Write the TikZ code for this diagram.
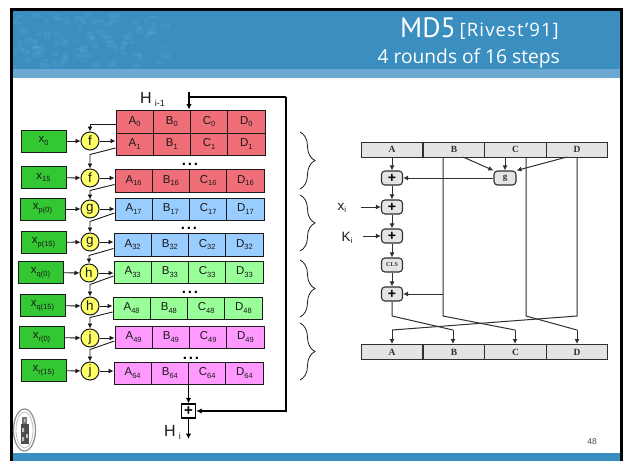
\documentclass[tikz,border=0pt]{standalone}
\usepackage{fontspec}
\setmainfont{Liberation Sans}
\newfontfamily\titlefont{PT Sans}
\newfontfamily\subtitlefont{Open Sans}
\newfontfamily\serifb{Liberation Serif}[BoldFont={Liberation Serif Bold}]
\usetikzlibrary{arrows.meta,decorations.pathreplacing,calc}
\definecolor{hdr}{HTML}{3A8FC0}
\definecolor{hdrlight}{HTML}{6BA9D3}
\definecolor{regred}{HTML}{F06E78}
\definecolor{regblue}{HTML}{99CCFF}
\definecolor{reggreen}{HTML}{99FF99}
\definecolor{regpink}{HTML}{FF99FF}
\definecolor{wordgreen}{HTML}{33C733}
\definecolor{fnyellow}{HTML}{FFFF66}
\definecolor{barfill}{HTML}{E4E4E4}
\definecolor{inkdark}{HTML}{1A1A1A}
\definecolor{inkright}{HTML}{303030}
\newcommand{\lowsub}[1]{\raisebox{-2.6pt}{\fontsize{7.5}{8}\selectfont #1}}
\newcommand{\regrow}[6]{%
  \foreach \L [count=\i from 0] in {A,B,C,D}{%
    \pgfmathsetmacro{\cx}{#2+37.25*(\i+0.5)}%
    \pgfmathsetmacro{\cy}{(#3+#4)/2}%
    \pgfmathsetmacro{\ch}{#4-#3}%
    \node[cell,fill=#5,minimum height=\ch pt] (#1\L) at (\cx,\cy) {\L\lowsub{#6}};
  }}
\newcommand{\feed}[3]{% from register #1 to function #2, bend drop #3
  \draw[arr] ($(#1A.west)+(0,4)$) -- ($(#2.north)+(0,-#3)$) -- (#2.north);}
\tikzset{
  cell/.style={draw=inkdark,line width=1pt,inner sep=0pt,minimum width=37.25pt,font=\fontsize{11.5}{12}\selectfont,text=inkdark},
  wordbox/.style={draw=inkdark,line width=1pt,fill=wordgreen,inner sep=0pt,minimum width=45pt,minimum height=22pt,font=\fontsize{11.5}{12}\selectfont,text=inkdark},
  fnnode/.style={circle,draw=inkdark,line width=1pt,fill=fnyellow,inner sep=0pt,minimum size=18pt,font=\fontsize{13.5}{13}\selectfont,text=inkdark},
  conn/.style={draw=inkdark,line width=.9pt},
  arr/.style={conn,-{Latex[length=5pt,width=5pt]}},
  thick conn/.style={draw=black,line width=1.4pt},
  thick arr/.style={thick conn,-{Latex[length=5.5pt,width=5.5pt]}},
  bracket/.style={draw=inkdark,line width=.8pt,decorate,decoration={brace,amplitude=15pt,aspect=.5}},
  barcell/.style={draw=inkright,line width=1pt,fill=barfill,inner sep=0pt,minimum height=15pt,font=\serifb\bfseries\fontsize{9.5}{10}\selectfont,text=inkright},
  opbox/.style={draw=inkright,line width=1.1pt,fill=barfill,rounded corners=3.5pt,inner sep=0pt,minimum width=21pt,minimum height=14pt,font=\bfseries\fontsize{14}{14}\selectfont,text=black},
  rarr/.style={draw=inkright,line width=1pt,-{Latex[length=5pt,width=5pt]}},
  rline/.style={draw=inkright,line width=1pt},
  label/.style={inner sep=0pt,text=inkdark},
  dotsnode/.style={anchor=base,inner sep=0pt,font=\bfseries\fontsize{15}{15}\selectfont\addfontfeature{LetterSpace=12},text=black}
}
\begin{document}
\begin{tikzpicture}[x=1pt,y=-1pt]
\useasboundingbox (0,0) rectangle (623,461);
% slide frame
\fill[white] (0,0) rectangle (623,461);
\fill[black] (10,8) rectangle (623,461);
\fill[white] (12.5,11) rectangle (619.5,461);
\fill[hdr] (12.5,11) rectangle (619.5,69);
\fill[hdrlight] (12.5,69) rectangle (619.5,78);
\fill[hdr] (12.5,453) rectangle (619.5,461);
% header texture
\pgfmathsetseed{7}
\foreach \k in {1,...,90}{
  \pgfmathsetmacro{\tx}{13+rnd*150}
  \pgfmathsetmacro{\ty}{12+rnd*52}
  \fill[white,opacity=.05] (\tx,\ty) rectangle ++(3+rnd*7,2+rnd*5);
}
% title
\node[anchor=base west,inner sep=0pt,text=white,font=\titlefont\fontsize{28}{28}\selectfont] (title1) at (400,37) {MD5};
\node[anchor=base east,inner sep=0pt,text=white,font=\subtitlefont\fontsize{18.5}{19}\selectfont\addfontfeature{LetterSpace=6}] (title1b) at (559,36) {[Rivest’91]};
\node[anchor=base east,inner sep=0pt,text=white,font=\subtitlefont\fontsize{19.2}{20}\selectfont] (title2) at (560,63) {4 rounds of 16 steps};
% registers
\regrow{ra}{116}{110}{133}{regred}{0}
\regrow{rb}{116}{133}{155}{regred}{1}
\regrow{rc}{115}{169}{192}{regred}{16}
\regrow{rd}{115}{198}{220}{regblue}{17}
\regrow{re}{114}{233}{256}{regblue}{32}
\regrow{rf}{114}{261}{283}{reggreen}{33}
\regrow{rg}{113}{297}{319}{reggreen}{48}
\regrow{rh}{115}{326}{348}{regpink}{49}
\regrow{ri}{114}{362}{384}{regpink}{64}
% message words
\node[wordbox] (w1) at (43.5,141) {x\lowsub{0}};
\node[wordbox] (w2) at (43.5,177.5) {x\lowsub{15}};
\node[wordbox] (w3) at (42.5,209) {x\lowsub{p(0)}};
\node[wordbox] (w4) at (43.5,242.5) {x\lowsub{p(15)}};
\node[wordbox] (w5) at (40.5,272.5) {x\lowsub{q(0)}};
\node[wordbox] (w6) at (42.5,305.5) {x\lowsub{q(15)}};
\node[wordbox] (w7) at (41.5,337.5) {x\lowsub{r(0)}};
\node[wordbox] (w8) at (43.5,370.5) {x\lowsub{r(15)}};
% functions
\node[fnnode] (f1) at (90,141) {f};
\node[fnnode] (f2) at (90,178) {f};
\node[fnnode] (f3) at (90,209) {g};
\node[fnnode] (f4) at (90,242) {g};
\node[fnnode] (f5) at (89,273) {h};
\node[fnnode] (f6) at (90,306) {h};
\node[fnnode] (f7) at (90,338) {j};
\node[fnnode] (f8) at (90,371) {j};
% word -> function -> register
\foreach \n/\r in {1/rb,2/rc,3/rd,4/re,5/rf,6/rg,7/rh,8/ri}{
  \draw[arr] (w\n) -- (f\n);
  \draw[arr] (f\n) -- (f\n -| \r A.west);
}
% chaining
\draw[arr] ($(raA.west)+(0,2.5)$) -| (f1.north);
\feed{rb}{f2}{14}
\feed{rc}{f3}{9}
\feed{rd}{f4}{11}
\feed{re}{f5}{8}
\feed{rf}{f6}{12}
\feed{rg}{f7}{11}
\feed{rh}{f8}{12}
% dots
\node[dotsnode] (d1) at (190,165) {...};
\node[dotsnode] (d2) at (189,229) {...};
\node[dotsnode] (d3) at (190,293) {...};
\node[dotsnode] (d4) at (191,359) {...};
% feed-forward
\coordinate (topjoin) at (189,97);
\coordinate (topstart) at (189,92);
\coordinate (rightcorner) at (286,97);
\node[draw=black,line width=1.4pt,minimum size=14pt,inner sep=0pt,font=\bfseries\fontsize{15}{15}\selectfont] (adder) at (188.5,411) {+};
\coordinate (outend) at (188.5,439);
\draw[thick arr] (topstart) -- (topjoin) -- (topjoin |- raA.north);
\draw[thick conn] (topjoin) -- (rightcorner);
\draw[thick arr] (rightcorner) |- (adder.east);
\draw[thick arr] (adder |- riC.south) -- (adder.north);
\draw[thick arr] (adder.south) -- (outend);
\node[label,font=\fontsize{16}{16}\selectfont,anchor=base west] (hprev) at (140,103) {H\hspace{3pt}\raisebox{-3pt}{\fontsize{9}{9}\selectfont i-1}};
\node[label,font=\fontsize{16}{16}\selectfont,anchor=base west] (hnext) at (164,436) {H\hspace{3pt}\raisebox{-3pt}{\fontsize{9}{9}\selectfont i}};
% braces
\coordinate (b1a) at (300,132); \coordinate (b1b) at (300,189);
\coordinate (b2a) at (300,195); \coordinate (b2b) at (300,251);
\coordinate (b3a) at (300,260); \coordinate (b3b) at (300,317);
\coordinate (b4a) at (300,323); \coordinate (b4b) at (300,380);
\foreach \n in {1,2,3,4}{ \draw[bracket] (b\n a) -- (b\n b); }
% right diagram: top and bottom bars
\foreach \L/\cx in {A/392,B/454,C/515.5,D/577}{
  \node[barcell,minimum width=61.75pt] (t\L) at (\cx,149.5) {\L};
  \node[barcell,minimum width=61.75pt] (u\L) at (\cx,352) {\L};
}
\node[opbox] (p1) at (392,178) {+};
\node[opbox] (p2) at (392,207) {+};
\node[opbox] (p3) at (392,236) {+};
\node[opbox,font=\serifb\bfseries\fontsize{6}{6}\selectfont,text=inkright] (cls) at (392,265) {CLS};
\node[opbox] (p4) at (392,294) {+};
\node[opbox,minimum width=22pt,font=\serifb\bfseries\fontsize{9}{9}\selectfont,text=inkright] (g) at (505,178) {g};
\draw[rarr] (tA.south -| p1) -- (p1);
\draw[rarr] (p1) -- (p2);
\draw[rarr] (p2) -- (p3);
\draw[rarr] (p3) -- (cls);
\draw[rarr] (cls) -- (p4);
\draw[rarr] (g) -- (p1);
\coordinate (gb) at (463,157); \coordinate (gd) at (567,157);
\draw[rarr] (gb) -- (g.north west);
\draw[rarr] (g |- tC.south) -- (g.north);
\draw[rarr] (gd) -- (g.north east);
% permutation wires
\coordinate (Bt) at (443,157); \coordinate (Bm) at (443,316); \coordinate (Bl) at (515,330);
\coordinate (Ct) at (526,157); \coordinate (Cm) at (526,316); \coordinate (Cl) at (577,330);
\coordinate (Dt) at (577,157); \coordinate (Dm) at (577,316); \coordinate (Dl) at (392,330);
\coordinate (Am) at (392,316); \coordinate (Al) at (453,330);
\draw[rline] (Bt) -- (Bm) -- (Bl);
\draw[rarr] (Bl) -- (Bl |- uC.north);
\draw[rline] (Ct) -- (Cm) -- (Cl);
\draw[rarr] (Cl) -- (Cl |- uD.north);
\draw[rline] (Dt) -- (Dm) -- (Dl);
\draw[rarr] (Dl) -- (Dl |- uA.north);
\draw[rline] (p4.south) -- (Am) -- (Al);
\draw[rarr] (Al) -- (Al |- uB.north);
\draw[rarr] (Bt |- p4) -- (p4.east);
% inputs
\coordinate (xs) at (361,207); \coordinate (ks) at (363,236);
\draw[rarr] (xs) -- (p2.west);
\draw[rarr] (ks) -- (p3.west);
\node[label,font=\fontsize{13.5}{14}\selectfont] (xi) at (342,208) {x\raisebox{-2.5pt}{\fontsize{8}{8}\selectfont i}};
\node[label,font=\fontsize{13.5}{14}\selectfont] (ki) at (347,238) {K\raisebox{-2.5pt}{\fontsize{8}{8}\selectfont i}};
% page number
\node[label,font=\fontsize{8.5}{9}\selectfont,text=black!70] (pg) at (592,441.5) {48};
% logo
\draw[draw=black!45,line width=1.2pt,fill=white] (24.5,430) ellipse (11pt and 21pt);
\draw[draw=black!25,line width=.8pt] (24.5,430) ellipse (8.5pt and 18pt);
\fill[black!70] (20.5,424) rectangle (28.5,444);
\fill[black!55] (22,417) rectangle (27,424);
\fill[black!25] (22,428) rectangle (24,432) (26,434) rectangle (28,438) (22,437) rectangle (24,441) (24,419) rectangle (25.5,422);
\end{tikzpicture}
\end{document}
